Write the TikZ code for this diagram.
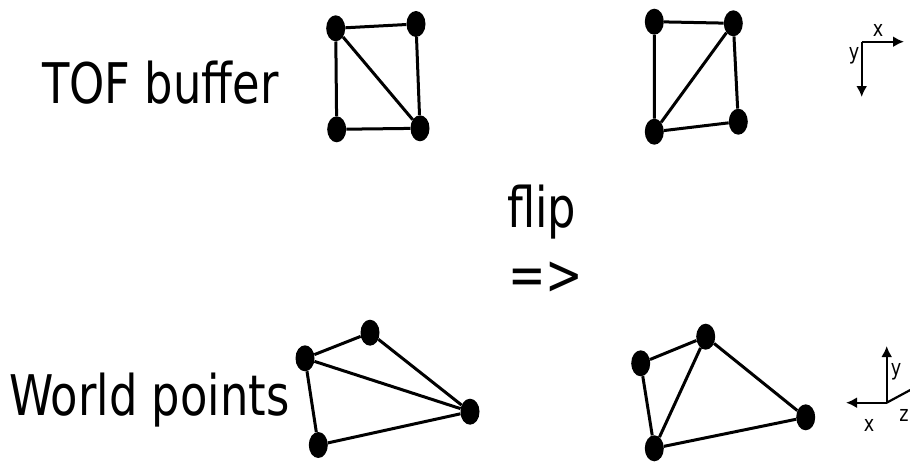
\documentclass[tikz,border=0pt]{standalone}
\usepackage{fontspec}
\setmainfont[FakeStretch=0.8]{DejaVu Sans}
\usetikzlibrary{shapes.geometric,arrows.meta}
\begin{document}
\begin{tikzpicture}[x=1pt,y=-1pt,
  dot/.style={ellipse,fill=black,draw=none,minimum width=19pt,minimum height=26pt,inner sep=0pt},
  edge/.style={line width=3pt},
  axis/.style={line width=2.2pt,-{Latex[length=11pt,width=11pt]}},
  big/.style={anchor=base west,inner sep=0pt,font=\fontsize{56}{60}\selectfont},
  small/.style={inner sep=0pt,font=\fontsize{22}{24}\selectfont}]
\useasboundingbox (0,0) rectangle (910,461);
% labels
\node[big] (tof) at (42,103) {TOF buffer};
\node[big] (world) at (9,415) {World points};
\node[big] (flip) at (507,227) {flip};
\node[big] (arr) at (508,294) {=>};
% top left graph
\node[dot] (a1) at (335.7,28.3) {};
\node[dot] (b1) at (416,24) {};
\node[dot] (c1) at (336.7,129.3) {};
\node[dot] (d1) at (420,128.3) {};
\draw[edge] (a1) -- (b1) (a1) -- (c1) (b1) -- (d1) (c1) -- (d1) (a1) -- (d1);
% top right graph
\node[dot] (a2) at (654.3,21.7) {};
\node[dot] (b2) at (733.3,23.3) {};
\node[dot] (c2) at (654.3,131.7) {};
\node[dot] (d2) at (738.3,121.7) {};
\draw[edge] (a2) -- (b2) (a2) -- (c2) (b2) -- (d2) (c2) -- (d2) (c2) -- (b2);
% bottom left graph
\node[dot] (a3) at (305,358.3) {};
\node[dot] (b3) at (370,332.7) {};
\node[dot] (c3) at (470,411.7) {};
\node[dot] (d3) at (318.3,445) {};
\draw[edge] (a3) -- (b3) (a3) -- (c3) (b3) -- (c3) (a3) -- (d3) (d3) -- (c3);
% bottom right graph
\node[dot] (a4) at (640.7,363.3) {};
\node[dot] (b4) at (705.7,336.7) {};
\node[dot] (c4) at (805.7,417.3) {};
\node[dot] (d4) at (654.3,448.3) {};
\draw[edge] (a4) -- (b4) (a4) -- (d4) (b4) -- (d4) (b4) -- (c4) (d4) -- (c4);
% top axes
\coordinate (o1) at (861.7,41.7);
\coordinate (x1) at (904,41.7);
\coordinate (y1) at (861.7,97);
\draw[axis] (o1) -- (x1);
\draw[axis] (o1) -- (y1);
\node[small] (lx1) at (878,30) {x};
\node[small] (ly1) at (854,56) {y};
% bottom axes
\coordinate (o2) at (886.7,402.7);
\coordinate (y2) at (886.7,346);
\coordinate (x2) at (846,402.7);
\coordinate (z2) at (914,388);
\draw[axis] (o2) -- (y2);
\draw[axis] (o2) -- (x2);
\draw[line width=2.2pt] (o2) -- (z2);
\node[small] (ly2) at (896,372) {y};
\node[small] (lx2) at (869,425) {x};
\node[small] (lz2) at (904,415) {z};
\end{tikzpicture}
\end{document}
